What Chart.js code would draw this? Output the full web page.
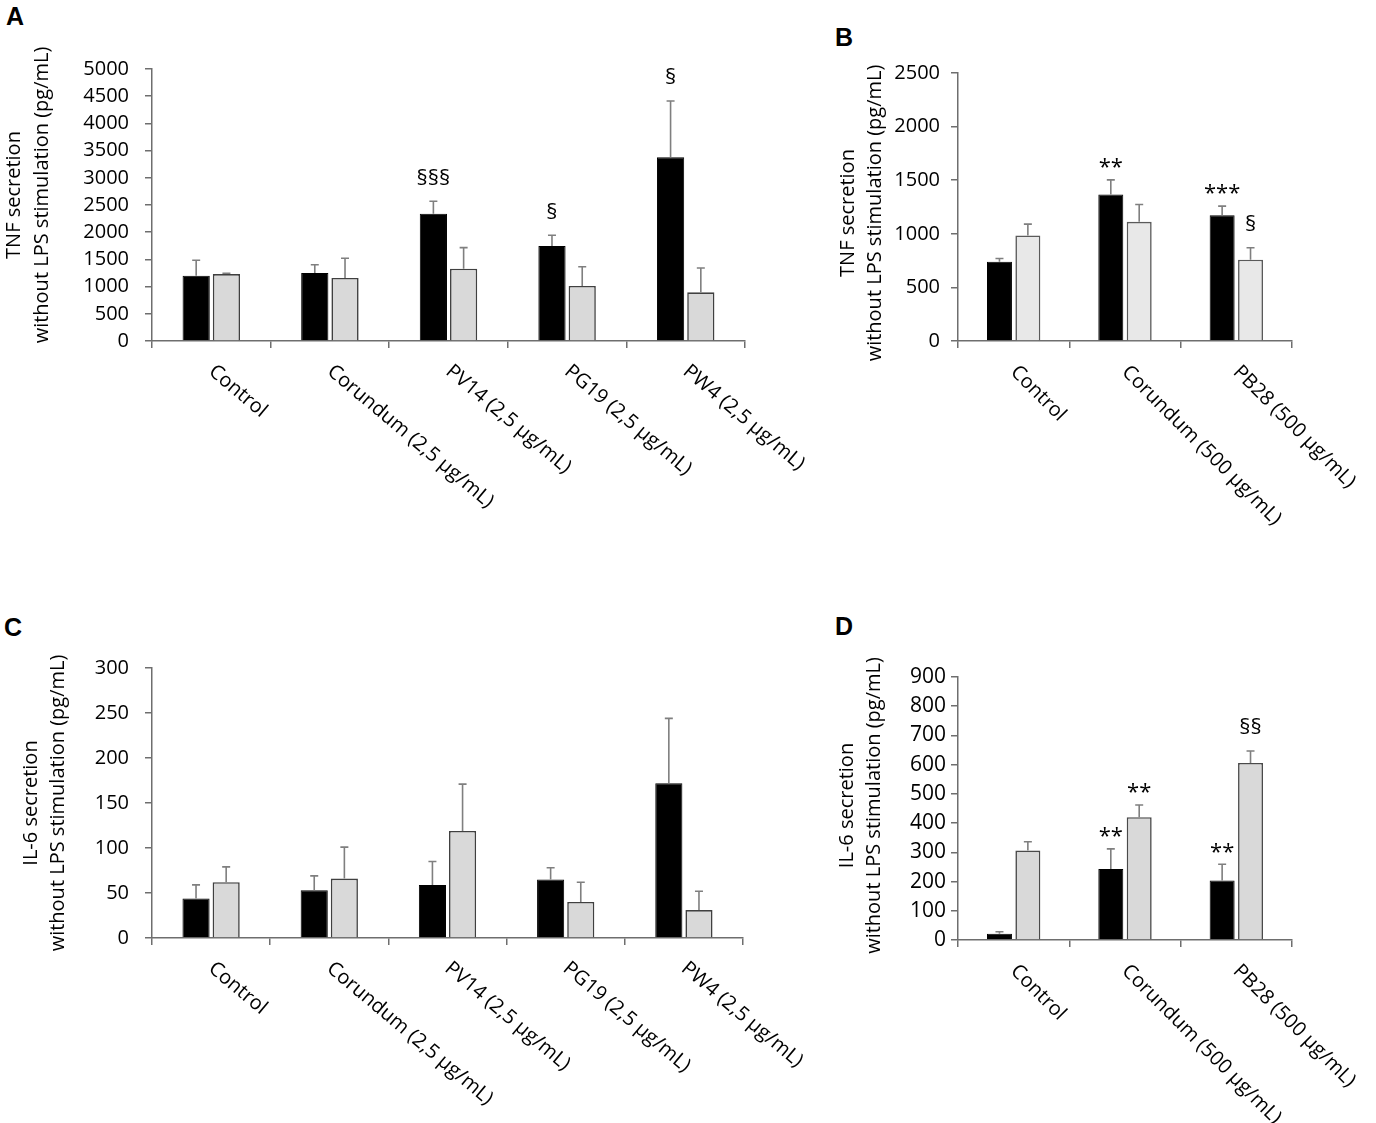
<!DOCTYPE html>
<html>
<head>
<meta charset="utf-8">
<script src="https://cdn.jsdelivr.net/npm/chart.js@4.4.1/dist/chart.umd.min.js"></script>
<style>
  body { margin: 0; background: #fff; width: 1376px; height: 1123px; position: relative; overflow: hidden; }
  canvas { position: absolute; }
  .tag { position: absolute; font: bold 25px "Liberation Sans", Arial, sans-serif; line-height: 25px; color: #000; }
</style>
</head>
<body>
<div class="tag" style="left:6px;top:4px">A</div>
<div class="tag" style="left:835px;top:25px">B</div>
<div class="tag" style="left:4px;top:615px">C</div>
<div class="tag" style="left:835px;top:614px">D</div>

<canvas id="chartA" width="820" height="560" style="left:0;top:0"></canvas>
<canvas id="chartB" width="546" height="560" style="left:830px;top:0"></canvas>
<canvas id="chartC" width="820" height="523" style="left:0;top:600px"></canvas>
<canvas id="chartD" width="546" height="523" style="left:830px;top:600px"></canvas>

<script>
// categories
const catsLow = ["Control", "Corundum (2,5 µg/mL)", "PV14 (2,5 µg/mL)", "PG19 (2,5 µg/mL)", "PW4 (2,5 µg/mL)"];
const catsHigh = ["Control", "Corundum (500 µg/mL)", "PB28 (500 µg/mL)"];

// A: TNF, low dose
const tnfLowBlack = [1200, 1250, 2340, 1746, 3376];
const tnfLowBlackErr = [283, 153, 228, 197, 1036];
const tnfLowGrey = [1230, 1158, 1330, 1011, 895];
const tnfLowGreyErr = [15, 362, 386, 355, 447];
const tnfLowBlackSig = ["", "", "§§§", "§", "§"];
const tnfLowGreySig = ["", "", "", "", ""];

// B: TNF, high dose
const tnfHighBlack = [739, 1367, 1174];
const tnfHighBlackErr = [31, 136, 84];
const tnfHighGrey = [985, 1112, 758];
const tnfHighGreyErr = [105, 162, 112];
const tnfHighBlackSig = ["", "**", "***"];
const tnfHighGreySig = ["", "", "§"];

// C: IL-6, low dose
const il6LowBlack = [44, 53, 59, 65, 172];
const il6LowBlackErr = [15, 16, 26, 13, 72];
const il6LowGrey = [62, 66, 119, 40, 31];
const il6LowGreyErr = [17, 35, 52, 22, 21];
const il6LowBlackSig = ["", "", "", "", ""];
const il6LowGreySig = ["", "", "", "", ""];

// D: IL-6, high dose
const il6HighBlack = [21, 243, 204];
const il6HighBlackErr = [7, 69, 55];
const il6HighGrey = [306, 420, 606];
const il6HighGreyErr = [30, 42, 41];
const il6HighBlackSig = ["", "**", "**"];
const il6HighGreySig = ["", "**", "§§"];

const tnfTitle = ["TNF secretion", "without LPS stimulation (pg/mL)"];
const il6Title = ["IL-6 secretion", "without LPS stimulation (pg/mL)"];

const FONT = '"Open Sans", "Noto Sans", sans-serif';
const TEXT = "#000";
const AXIS = "#6e6e6e";
const ERR = "#7f7f7f";

const extras = {
  id: "extras",
  afterDatasetsDraw(chart, args, opts) {
    const ctx = chart.ctx;
    const y = chart.scales.y;
    chart.data.datasets.forEach((ds, di) => {
      const meta = chart.getDatasetMeta(di);
      meta.data.forEach((bar, i) => {
        const top = y.getPixelForValue(ds.data[i] + ds.err[i]);
        ctx.save();
        ctx.strokeStyle = ERR;
        ctx.lineWidth = 1.6;
        ctx.beginPath();
        ctx.moveTo(bar.x, bar.y);
        ctx.lineTo(bar.x, top);
        ctx.moveTo(bar.x - 4, top);
        ctx.lineTo(bar.x + 4, top);
        ctx.stroke();
        const s = ds.sig[i];
        if (s) {
          ctx.fillStyle = TEXT;
          ctx.font = "22px " + FONT;
          ctx.textAlign = "center";
          ctx.textBaseline = "middle";
          ctx.fillText(s, bar.x, top - (s.includes("*") ? 12 : 23));
        }
        ctx.restore();
      });
    });
  },
  afterDraw(chart, args, opts) {
    const ctx = chart.ctx;
    const xs = chart.scales.x;
    const area = chart.chartArea;
    ctx.save();
    ctx.fillStyle = TEXT;
    ctx.font = "20px " + FONT;
    ctx.textAlign = "left";
    ctx.textBaseline = "middle";
    chart.data.labels.forEach((lab, i) => {
      ctx.save();
      ctx.translate(xs.getPixelForTick(i), area.bottom + 28);
      ctx.rotate(opts.rot * Math.PI / 180);
      ctx.fillText(lab, 0, 0);
      ctx.restore();
    });
    // y axis title, two lines
    ctx.translate(0, (area.top + area.bottom) / 2 + opts.titleDy);
    ctx.rotate(-Math.PI / 2);
    ctx.textAlign = "center";
    opts.title.forEach((line, k) => ctx.fillText(line, 0, opts.titleX[k]));
    ctx.restore();
  }
};

function panel(id, p) {
  new Chart(document.getElementById(id), {
    type: "bar",
    data: {
      labels: p.cats,
      datasets: [
        { data: p.black, err: p.blackErr, sig: p.blackSig,
          backgroundColor: "#000", borderColor: "#000", borderWidth: 1 },
        { data: p.grey, err: p.greyErr, sig: p.greySig,
          backgroundColor: p.greyFill, borderColor: p.greyLine, borderWidth: 1.6 },
      ],
    },
    options: {
      responsive: false,
      animation: false,
      devicePixelRatio: 1,
      categoryPercentage: 0.51,
      barPercentage: p.barPct,
      layout: { padding: p.pad },
      plugins: {
        legend: { display: false },
        tooltip: { enabled: false },
        extras: { rot: p.rot, title: p.title, titleX: p.titleX, titleDy: p.titleDy },
      },
      scales: {
        x: {
          grid: { offset: true, drawOnChartArea: false, drawTicks: true, tickLength: 7, color: AXIS, lineWidth: 1.5 },
          border: { color: AXIS, width: 1.5 },
          ticks: { display: false },
          afterFit: (s) => { s.height = 8; },
        },
        y: {
          min: 0,
          max: p.yMax,
          grid: { drawOnChartArea: false, drawTicks: true, tickLength: 7, color: AXIS, lineWidth: 1.5 },
          border: { color: AXIS, width: 1.5 },
          ticks: {
            stepSize: p.step,
            color: TEXT,
            font: { family: FONT, size: p.tickSize },
            padding: p.tickPad,
            callback: (v) => String(v),
          },
          afterFit: (s) => { s.width = p.axisW; },
        },
      },
    },
    plugins: [extras],
  });
}

panel("chartA", {
  cats: catsLow, black: tnfLowBlack, blackErr: tnfLowBlackErr, blackSig: tnfLowBlackSig,
  grey: tnfLowGrey, greyErr: tnfLowGreyErr, greySig: tnfLowGreySig,
  greyFill: "#d9d9d9", greyLine: "#404040", barPct: 0.9,
  yMax: 5000, step: 500, tickSize: 20, tickPad: 16, axisW: 152,
  pad: { left: 0, top: 69, right: 75, bottom: 211 },
  rot: 40, title: tnfTitle, titleX: [14, 42], titleDy: -10,
});

panel("chartB", {
  cats: catsHigh, black: tnfHighBlack, blackErr: tnfHighBlackErr, blackSig: tnfHighBlackSig,
  grey: tnfHighGrey, greyErr: tnfHighGreyErr, greySig: tnfHighGreySig,
  greyFill: "#e8e8e8", greyLine: "#5a5a5a", barPct: 0.88,
  yMax: 2500, step: 500, tickSize: 20, tickPad: 11, axisW: 128,
  pad: { left: 0, top: 73, right: 84, bottom: 211 },
  rot: 45, title: tnfTitle, titleX: [18, 45], titleDy: 6,
});

panel("chartC", {
  cats: catsLow, black: il6LowBlack, blackErr: il6LowBlackErr, blackSig: il6LowBlackSig,
  grey: il6LowGrey, greyErr: il6LowGreyErr, greySig: il6LowGreySig,
  greyFill: "#d9d9d9", greyLine: "#404040", barPct: 0.9,
  yMax: 300, step: 50, tickSize: 20, tickPad: 16, axisW: 152,
  pad: { left: 0, top: 68, right: 77, bottom: 177 },
  rot: 40, title: il6Title, titleX: [31, 58], titleDy: 0,
});

panel("chartD", {
  cats: catsHigh, black: il6HighBlack, blackErr: il6HighBlackErr, blackSig: il6HighBlackSig,
  grey: il6HighGrey, greyErr: il6HighGreyErr, greySig: il6HighGreySig,
  greyFill: "#d9d9d9", greyLine: "#4a4a4a", barPct: 0.88,
  yMax: 900, step: 100, tickSize: 21, tickPad: 5, axisW: 128,
  pad: { left: 0, top: 77, right: 84, bottom: 175 },
  rot: 45, title: il6Title, titleX: [17, 44], titleDy: -3,
});
</script>
</body>
</html>
